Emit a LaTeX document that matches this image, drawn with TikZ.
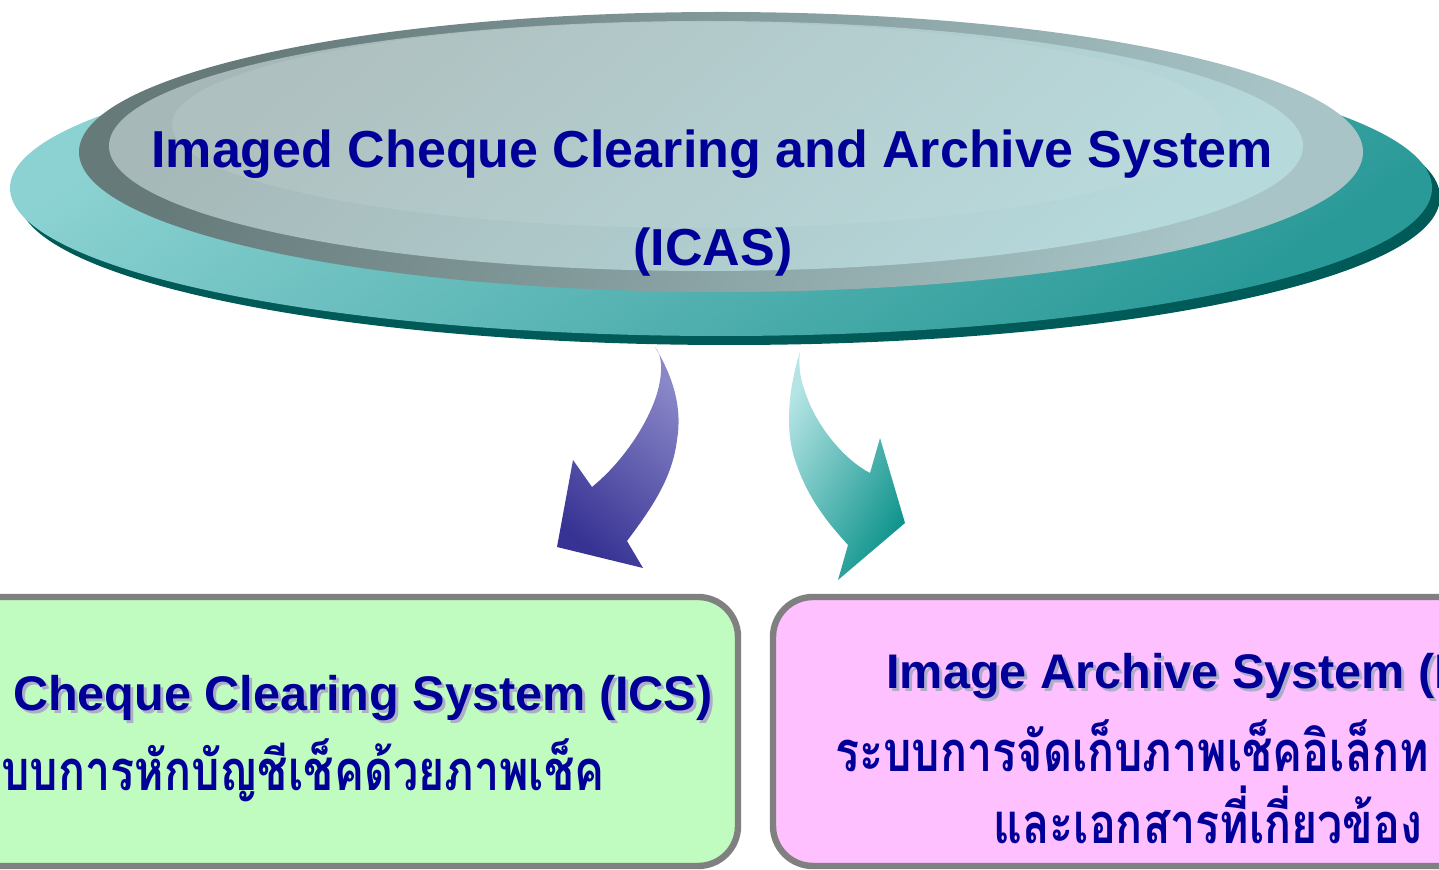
\documentclass[tikz,border=0pt]{standalone}
\usepackage{fontspec}
\setmainfont{Liberation Sans}
\newfontfamily\thaifont[Script=Thai, FakeStretch=0.8]{Loma}
\definecolor{txtblue}{HTML}{000099}
\definecolor{txtshadow}{HTML}{ADADC8}
\definecolor{platedark}{HTML}{005A58}
\definecolor{plateA}{HTML}{8CD2D2}
\definecolor{plateB}{HTML}{2A9A98}
\definecolor{rimA}{HTML}{667A7A}
\definecolor{rimB}{HTML}{A8C4C6}
\definecolor{innerA}{HTML}{A6B8B8}
\definecolor{innerB}{HTML}{B6D9DC}
\definecolor{hiA}{HTML}{AFC0C0}
\definecolor{hiB}{HTML}{B8D8DA}
\definecolor{arrowA}{HTML}{8A87C9}
\definecolor{arrowB}{HTML}{373394}
\definecolor{arrowC}{HTML}{B4E4E4}
\definecolor{arrowD}{HTML}{0E938C}
\definecolor{boxgreen}{HTML}{C0FCC0}
\definecolor{boxpink}{HTML}{FFC0FF}
\definecolor{boxline}{HTML}{808080}
\tikzset{
  titletext/.style={text=txtblue, font=\fontsize{26pt}{30pt}\selectfont\bfseries, inner sep=0pt},
  boxtext/.style={text=txtblue, font=\fontsize{24.3pt}{28pt}\selectfont\bfseries, inner sep=0pt},
  boxshadow/.style={text=txtshadow, font=\fontsize{24.3pt}{28pt}\selectfont\bfseries, inner sep=0pt},
  thaitext/.style={text=txtblue, font=\thaifont\fontsize{28pt}{32pt}\selectfont\bfseries, inner sep=0pt},
  sysbox/.style={draw=boxline, line width=3.2pt, rounded corners=20pt}
}
\begin{document}
\begin{tikzpicture}[x=0.5pt,y=-0.5pt]
\useasboundingbox (0,0) rectangle (1439,870);
\clip (0,0) rectangle (1439,870);
% ---- ICAS plate ----
\fill[platedark] (729,197) ellipse [x radius=711, y radius=148];
\shade[top color=plateA, bottom color=plateB, shading angle=35] (721,188) ellipse [x radius=711, y radius=148];
\shade[top color=rimA, bottom color=rimB, shading angle=60] (721,152) ellipse [x radius=642, y radius=140];
\shade[top color=innerA, bottom color=innerB, shading angle=40] (706,146) ellipse [x radius=597, y radius=125];
\shade[top color=hiA, bottom color=hiB, shading angle=40] (697,125) ellipse [x radius=525, y radius=103];
\coordinate (icas) at (721,188);
\node[titletext, anchor=base] (title1) at (712,168) {Imaged Cheque Clearing and Archive System};
\node[titletext, anchor=base] (title2) at (713,266) {(ICAS)};
% ---- arrows ----
\coordinate (la) at (655,347);
\coordinate (ra) at (800,352);
\shade[top color=arrowA, bottom color=arrowB, shading angle=-40]
  (la) .. controls (675,380) and (682,410) .. (677,440)
       .. controls (672,480) and (650,510) .. (627,541)
  -- (643,568) -- (557,547) -- (573,460) -- (592,487)
       .. controls (625,460) and (650,420) .. (658,390)
       .. controls (663,370) and (662,355) .. (la) -- cycle;
\shade[top color=arrowC, bottom color=arrowD, shading angle=60]
  (ra) .. controls (788,390) and (785,430) .. (795,460)
       .. controls (808,500) and (830,525) .. (848,545)
  -- (838,580) -- (905,523) -- (880,438) -- (870,473)
       .. controls (845,460) and (820,430) .. (808,400)
       .. controls (800,380) and (798,365) .. (ra) -- cycle;
% ---- boxes ----
\draw[sysbox, fill=boxgreen] (-60,597) rectangle (738,866);
\draw[sysbox, fill=boxpink] (773,597) rectangle (1520,866);
\coordinate (icsbox) at (340,730);
\coordinate (iasbox) at (1150,730);
% left box texts
\node[boxshadow, anchor=base east] (icsS) at (716,713) {Cheque Clearing System (ICS)};
\node[boxtext, anchor=base east] (ics) at (713,710) {Cheque Clearing System (ICS)};
\node[thaitext, anchor=base west] (icsth) at (1,790) {บบการหักบัญชีเช็คด้วยภาพเช็ค};
% right box texts
\node[boxshadow, anchor=base west] (iasS) at (889,691) {Image Archive System (I};
\node[boxtext, anchor=base west] (ias) at (886,688) {Image Archive System (I};
\node[thaitext, anchor=base west] (iasth1) at (835,771) {ระบบการจัดเก็บภาพเช็คอิเล็กท};
\node[thaitext, anchor=base west] (iasth2) at (993,843) {และเอกสารที่เกี่ยวข้อง};
\end{tikzpicture}
\end{document}
